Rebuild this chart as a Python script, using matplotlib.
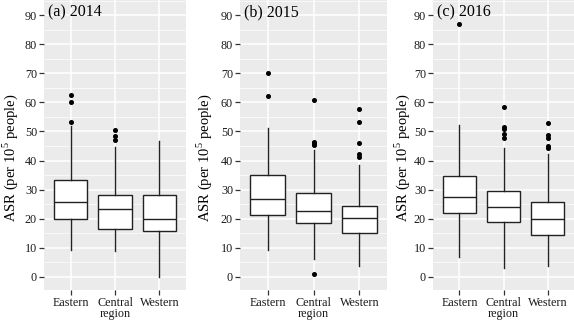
import matplotlib
matplotlib.use("Agg")
import matplotlib.pyplot as plt
from matplotlib.ticker import MultipleLocator

plt.rcParams['font.family'] = ['Liberation Serif', 'DejaVu Serif']
plt.rcParams['mathtext.fontset'] = 'custom'
plt.rcParams['mathtext.rm'] = 'Liberation Serif'

regions = ["Eastern", "Central\nregion", "Western"]
titles = ["(a) 2014", "(b) 2015", "(c) 2016"]

# box statistics per year, order: Eastern, Central, Western
low_2014 = [9.4, 8.9, 0.0]
q1_2014 = [20.0, 16.6, 15.7]
med_2014 = [25.9, 23.2, 19.8]
q3_2014 = [33.3, 28.3, 28.3]
high_2014 = [51.8, 44.7, 46.6]
out_2014 = [[53.3, 60.3, 62.5], [47.2, 48.4, 50.5], []]

low_2015 = [9.4, 6.3, 3.7]
q1_2015 = [21.2, 18.6, 15.1]
med_2015 = [26.9, 22.7, 20.1]
q3_2015 = [35.1, 29.0, 24.4]
high_2015 = [51.3, 43.8, 38.4]
out_2015 = [[62.3, 70.2], [1.1, 45.3, 45.9, 46.4, 60.8], [41.1, 42.2, 45.9, 53.1, 57.6]]

low_2016 = [6.9, 3.2, 3.8]
q1_2016 = [21.9, 18.8, 14.3]
med_2016 = [27.5, 24.1, 19.9]
q3_2016 = [34.8, 29.4, 25.9]
high_2016 = [52.2, 44.2, 42.2]
out_2016 = [[87.1], [47.9, 49.0, 50.7, 51.5, 58.4], [44.4, 44.9, 47.6, 48.7, 52.8]]

years = [
    (low_2014, q1_2014, med_2014, q3_2014, high_2014, out_2014),
    (low_2015, q1_2015, med_2015, q3_2015, high_2015, out_2015),
    (low_2016, q1_2016, med_2016, q3_2016, high_2016, out_2016),
]

W, H = 574, 324
fig = plt.figure(figsize=(W / 100, H / 100), dpi=100)

# panel left/right edges in pixels, and x of the y-label's right side
panels = [(44, 186), (240, 387), (433, 574)]
ylab_x = [20, 214, 412]
top_px, bottom_px = 0, 290

for i, (lo, q1, med, q3, hi, outs) in enumerate(years):
    left, right = panels[i]
    ax = fig.add_axes([left / W, (H - bottom_px) / H, (right - left) / W,
                       (bottom_px - top_px) / H])
    ax.set_facecolor('#EBEBEB')
    stats = []
    for j in range(3):
        stats.append(dict(whislo=lo[j], q1=q1[j], med=med[j], q3=q3[j],
                          whishi=hi[j], fliers=outs[j]))
    ax.bxp(stats, positions=[1, 2, 3], widths=0.75, patch_artist=True,
           boxprops=dict(facecolor='white', edgecolor='#222222', linewidth=1.0),
           medianprops=dict(color='#222222', linewidth=1.0),
           whiskerprops=dict(color='#222222', linewidth=1.0),
           capprops=dict(linewidth=0),
           flierprops=dict(marker='o', markerfacecolor='black',
                           markeredgecolor='black', markersize=2.6),
           zorder=3)
    ax.set_xlim(0.4, 3.6)
    ax.set_ylim(-4.5, 95.2)
    ax.yaxis.set_minor_locator(MultipleLocator(5))
    ax.set_yticks(range(0, 91, 10))
    ax.set_xticks([1, 2, 3])
    ax.set_xticklabels(regions, linespacing=0.95)
    ax.grid(which='major', color='white', linewidth=1.1, zorder=0)
    ax.grid(which='minor', axis='y', color='white', linewidth=0.5, zorder=0)
    ax.set_axisbelow(True)
    for s in ax.spines.values():
        s.set_visible(False)
    ax.tick_params(which='major', length=3.5, width=0.9, color='#333333',
                   labelsize=8.7, pad=1.5, labelcolor='#1a1a1a')
    ax.tick_params(which='minor', length=0)
    ax.set_ylabel(r"ASR (per 10$^{5}$ people)", fontsize=10.5)
    ax.yaxis.set_label_coords(ylab_x[i] / W, (H - 158) / H,
                              transform=fig.transFigure)
    ax.text(0.025, 0.985, titles[i], transform=ax.transAxes, fontsize=11.5,
            ha='left', va='top')

fig.savefig("out.png", dpi=100)
